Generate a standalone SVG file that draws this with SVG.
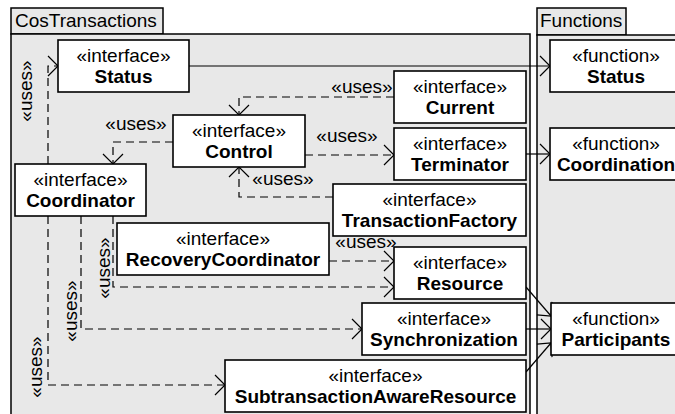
<svg xmlns="http://www.w3.org/2000/svg" width="675" height="414" viewBox="0 0 675 414">
<style>
text{font-family:"Liberation Sans",Arial,sans-serif;font-size:19px;fill:#000}
.b{font-weight:bold}
.m{text-anchor:middle}
.pkg{fill:#e8e8e8;stroke:#000;stroke-width:1.5}
.node{fill:#fff;stroke:#000;stroke-width:1.6}
.dep{fill:none;stroke:#000;stroke-width:1.2;stroke-dasharray:8,5;marker-end:url(#a)}
.sol{fill:none;stroke:#000;stroke-width:1.2;marker-end:url(#a)}
</style>
<defs>
<marker id="a" markerUnits="userSpaceOnUse" markerWidth="12" markerHeight="22" refX="11" refY="11" orient="auto">
<path d="M1,1 L11,11 L1,21" fill="none" stroke="#000" stroke-width="1.2"/>
</marker>
</defs>
<rect width="675" height="414" fill="#fff"/>
<g id="pkg-costransactions">
<rect class="pkg" x="11" y="8" width="152" height="26"/>
<rect class="pkg" x="11" y="34" width="519" height="390"/>
<text x="15" y="27">CosTransactions</text>
</g>
<g id="pkg-functions">
<rect class="pkg" x="537" y="8" width="89" height="27"/>
<rect class="pkg" x="537" y="35" width="150" height="390"/>
<text x="540" y="27">Functions</text>
</g>
<g id="connectors">
<path class="dep" d="M48,164 V66 H58"/>
<path class="dep" d="M173,142 H113 V164"/>
<path class="dep" d="M394,97 H239 V115"/>
<path class="dep" d="M305,155 H394"/>
<path class="dep" d="M333,197 H239 V167"/>
<path class="dep" d="M329,261 H394"/>
<path class="dep" d="M113,216 V287 H394"/>
<path class="dep" d="M81,216 V329 H362"/>
<path class="dep" d="M48,216 V385 H225"/>
<path class="sol" d="M189,66 H550"/>
<path class="sol" d="M526,154 H550"/>
<path class="sol" d="M526,287 L551,316"/>
<path class="sol" d="M526,329 H551"/>
<path class="sol" d="M526,372 L551,343"/>
<text transform="translate(32,91) rotate(-90)" class="m">«uses»</text>
<text x="136" y="130" class="m">«uses»</text>
<text x="362" y="93" class="m">«uses»</text>
<text x="347" y="142" class="m">«uses»</text>
<text x="283" y="185" class="m">«uses»</text>
<text x="366" y="248" class="m">«uses»</text>
<text transform="translate(110,268) rotate(-90)" class="m">«uses»</text>
<text transform="translate(77,311) rotate(-90)" class="m">«uses»</text>
<text transform="translate(42,367) rotate(-90)" class="m">«uses»</text>
</g>
<g id="status">
<rect class="node" x="58" y="40" width="131" height="52"/>
<text x="123.5" y="62" class="m">«interface»</text>
<text x="123.5" y="83" class="m b">Status</text>
</g>
<g id="current">
<rect class="node" x="394" y="71" width="132" height="52"/>
<text x="460" y="93" class="m">«interface»</text>
<text x="460" y="114" class="m b">Current</text>
</g>
<g id="control">
<rect class="node" x="173" y="115" width="132" height="52"/>
<text x="239" y="137" class="m">«interface»</text>
<text x="239" y="158" class="m b">Control</text>
</g>
<g id="terminator">
<rect class="node" x="394" y="128" width="132" height="52"/>
<text x="460" y="150" class="m">«interface»</text>
<text x="460" y="171" class="m b">Terminator</text>
</g>
<g id="coordinator">
<rect class="node" x="15" y="164" width="131" height="52"/>
<text x="80.5" y="186" class="m">«interface»</text>
<text x="80.5" y="207" class="m b">Coordinator</text>
</g>
<g id="transactionfactory">
<rect class="node" x="333" y="184" width="193" height="52"/>
<text x="429.5" y="206" class="m">«interface»</text>
<text x="429.5" y="227" class="m b">TransactionFactory</text>
</g>
<g id="recoverycoordinator">
<rect class="node" x="117" y="223" width="212" height="52"/>
<text x="223" y="245" class="m">«interface»</text>
<text x="223" y="266" class="m b">RecoveryCoordinator</text>
</g>
<g id="resource">
<rect class="node" x="394" y="247" width="132" height="52"/>
<text x="460" y="269" class="m">«interface»</text>
<text x="460" y="290" class="m b">Resource</text>
</g>
<g id="synchronization">
<rect class="node" x="362" y="303" width="164" height="52"/>
<text x="444" y="325" class="m">«interface»</text>
<text x="444" y="346" class="m b">Synchronization</text>
</g>
<g id="subtransactionawareresource">
<rect class="node" x="225" y="360" width="301" height="52"/>
<text x="375.5" y="382" class="m">«interface»</text>
<text x="375.5" y="403" class="m b">SubtransactionAwareResource</text>
</g>
<g id="f-status">
<rect class="node" x="550" y="40" width="132" height="52"/>
<text x="616" y="62" class="m">«function»</text>
<text x="616" y="83" class="m b">Status</text>
</g>
<g id="f-coordination">
<rect class="node" x="550" y="128" width="132" height="52"/>
<text x="616" y="150" class="m">«function»</text>
<text x="616" y="171" class="m b">Coordination</text>
</g>
<g id="f-participants">
<rect class="node" x="551" y="303" width="131" height="52"/>
<text x="616" y="325" class="m">«function»</text>
<text x="616" y="346" class="m b">Participants</text>
</g>
</svg>
